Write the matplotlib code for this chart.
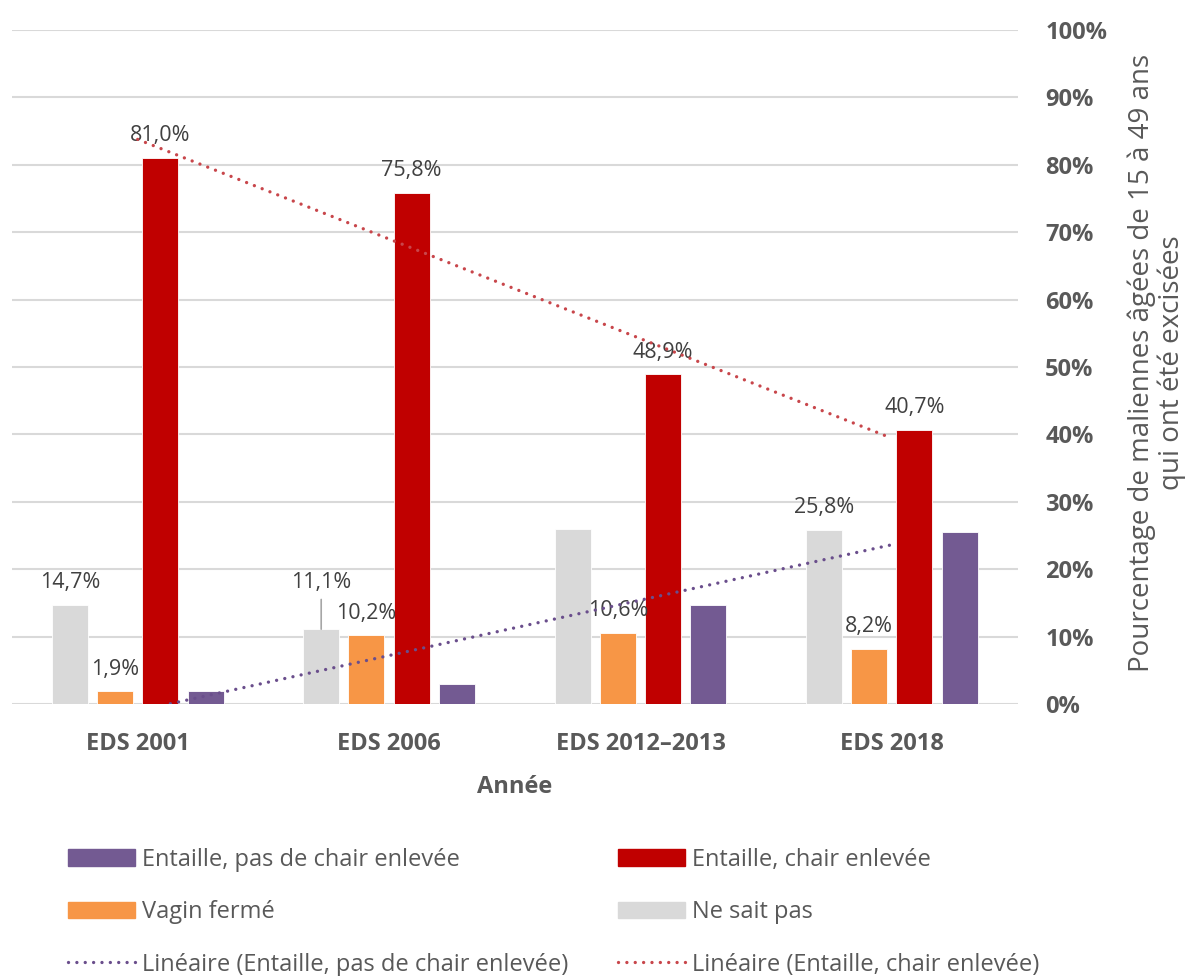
import numpy as np
import matplotlib.pyplot as plt
from matplotlib.patches import Patch
from matplotlib.lines import Line2D

plt.rcParams['font.family'] = ['Open Sans', 'DejaVu Sans']

# survey rounds and percentages per type of excision
years = ["EDS 2001", "EDS 2006", "EDS 2012–2013", "EDS 2018"]
ne_sait_pas = [14.7, 11.1, 25.9, 25.8]
vagin_ferme = [1.9, 10.2, 10.6, 8.2]
chair_enlevee = [81.0, 75.8, 48.9, 40.7]
pas_de_chair = [2.0, 3.0, 14.7, 25.5]

# which bars carry a value label
lab_ne_sait = [True, True, False, True]
lab_vagin = [True, True, True, True]
lab_chair = [True, True, True, True]
lab_pas_chair = [False, False, False, False]

c_gray = "#D9D9D9"
c_orange = "#F79646"
c_red = "#C00000"
c_purple = "#735A92"
c_trend_red = "#C8464B"
c_trend_purple = "#6A4E8C"
c_text = "#404040"
c_axis = "#595959"

W, H = 1194, 976
fig = plt.figure(figsize=(W / 100, H / 100), dpi=100)
ax = fig.add_axes([12/W, 1 - 704/H, 1005.5/W, 674/H])

x = np.arange(len(years))
step = 0.18
width = 0.143

series = [
    (ne_sait_pas, c_gray, lab_ne_sait),
    (vagin_ferme, c_orange, lab_vagin),
    (chair_enlevee, c_red, lab_chair),
    (pas_de_chair, c_purple, lab_pas_chair),
]

for i, (vals, col, labs) in enumerate(series):
    xs = x + (i - 1.5) * step
    ax.bar(xs, vals, width, color=col, edgecolor="white", linewidth=0.6, zorder=2)
    for j, (xi, v, show) in enumerate(zip(xs, vals, labs)):
        if not show:
            continue
        txt = f"{v:.1f}%".replace(".", ",")
        if i == 0 and j == 1:
            # raised label with leader line
            ax.annotate(txt, xy=(xi, v), xytext=(0, 30), textcoords="offset points",
                        ha="center", va="baseline", fontsize=15.5, color=c_text, zorder=3,
                        arrowprops=dict(arrowstyle="-", color="#A6A6A6", lw=1.2,
                                        shrinkA=3, shrinkB=0))
        else:
            ax.annotate(txt, xy=(xi, v), xytext=(0, 12), textcoords="offset points",
                        ha="center", va="baseline", fontsize=15.5, color=c_text, zorder=3)

# linear trend lines over the category positions
for vals, col in [(chair_enlevee, c_trend_red), (pas_de_chair, c_trend_purple)]:
    a, b = np.polyfit(x, vals, 1)
    ends = np.array([x[0], x[-1]])
    ax.plot(ends, a * ends + b, color=col, lw=2.4, linestyle=(0, (0.01, 2.5)),
            dash_capstyle="round", zorder=4)

ax.set_xlim(-0.5, 3.5)
ax.set_ylim(0, 100)
ax.set_yticks(np.arange(0, 101, 10))
ax.set_yticklabels([f"{t}%" for t in range(0, 101, 10)])
ax.yaxis.tick_right()
ax.tick_params(axis="y", length=0, pad=20, labelsize=17, labelcolor=c_axis)
for lab in ax.get_yticklabels():
    lab.set_fontweight("bold")
ax.set_xticks(x)
ax.set_xticklabels(years, fontsize=17, fontweight="bold", color=c_axis)
ax.tick_params(axis="x", length=0, pad=20)
ax.grid(axis="y", color=c_gray, lw=1.5, zorder=0)
ax.set_axisbelow(True)
for s in ax.spines.values():
    s.set_visible(False)
ax.axhline(0, color=c_gray, lw=2, zorder=1)

ax.set_xlabel("Année", fontsize=17, fontweight="bold", color=c_axis, labelpad=14)
fig.text(1157/W, 1 - 363/H,
         "Pourcentage de maliennes âgées de 15 à 49 ans\nqui ont été excisées",
         fontsize=20, color=c_axis, rotation=90, ha="center", va="center",
         multialignment="center", linespacing=1.05)

dot = (0, (0.01, 2.5))
col1 = [
    Patch(color=c_purple, label="Entaille, pas de chair enlevée"),
    Patch(color=c_orange, label="Vagin fermé"),
    Line2D([], [], color=c_trend_purple, lw=2.4, linestyle=dot,
           dash_capstyle="round", label="Linéaire (Entaille, pas de chair enlevée)"),
]
col2 = [
    Patch(color=c_red, label="Entaille, chair enlevée"),
    Patch(color=c_gray, label="Ne sait pas"),
    Line2D([], [], color=c_trend_red, lw=2.4, linestyle=dot,
           dash_capstyle="round", label="Linéaire (Entaille, chair enlevée)"),
]
for handles, x0 in [(col1, 68), (col2, 618)]:
    leg = fig.legend(handles=handles, loc="upper left", bbox_to_anchor=(x0/W, 1 - 848/H),
                     frameon=False, fontsize=17, handlelength=2.85, handleheight=0.72,
                     handletextpad=0.3, labelspacing=1.2, borderaxespad=0, borderpad=0)
    for t in leg.get_texts():
        t.set_color(c_axis)

fig.savefig("out.png", dpi=100)
